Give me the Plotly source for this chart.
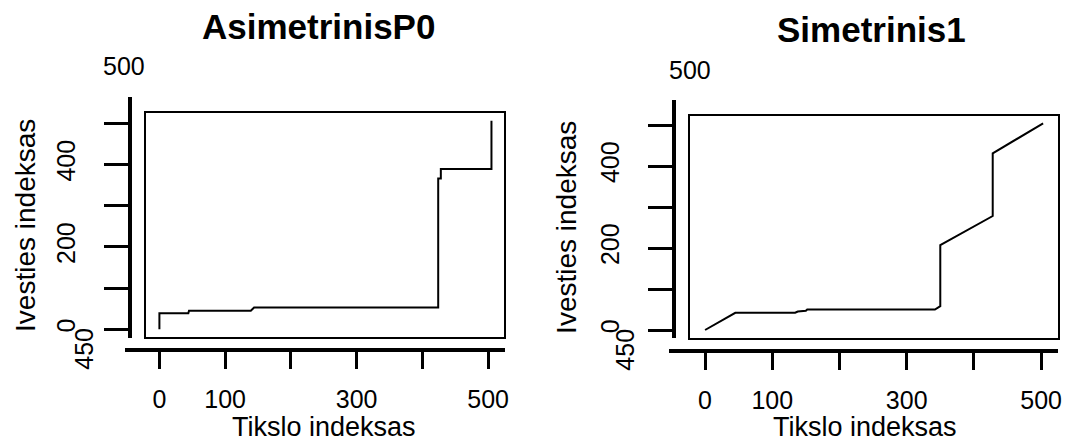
import plotly.graph_objects as go

# ---------------- data ----------------
# Left panel: AsimetrinisP0 (warping path breakpoints)
asym_x = [0, 0, 44, 45, 139, 144, 424, 424, 428, 428, 505, 505]
asym_y = [0, 39, 39, 45, 45, 53, 53, 366, 366, 389, 389, 506]
# Right panel: Simetrinis1
sym_x = [0, 45, 134, 138, 150, 152, 342, 350, 350, 428, 428, 503]
sym_y = [0, 42, 42, 45, 47, 50, 50, 58, 207, 278, 431, 504]

titles = ["AsimetrinisP0", "Simetrinis1"]
x_title = "Tikslo indeksas"
y_title = "Ivesties indeksas"
tick_vals = [0, 100, 200, 300, 400, 500]
x_tick_text = ["0", "100", "", "300", "", "500"]
y_tick_text = ["0", "", "200", "", "400", ""]
extra_top_label = "500"
extra_bottom_label = "450"

# ---------------- layout geometry (pixels) ----------------
W, H = 1073, 443
FONT = "Arial, Liberation Sans, sans-serif"

panels = [
    dict(box=(146.7, 506.0, 112.7, 337.3), x0=160.0, x500=490.0, y0=329.3, y500=123.3,
         ylx=130.0, yly=(96.7, 338.3), xly=350.0, xlx=(125.0, 506.7),
         title_xy=(320, 27), xt_xy=(325, 427), yt_xy=(25, 225),
         top_lab=(124, 66), bot_lab=(84, 349)),
    dict(box=(692.7, 1061.7, 115.7, 338.3), x0=707.7, x500=1045.0, y0=330.0, y500=125.0,
         ylx=676.7, yly=(100.0, 338.3), xly=351.0, xlx=(671.7, 1061.7),
         title_xy=(875, 30), xt_xy=(868, 427), yt_xy=(568, 227),
         top_lab=(693, 70), bot_lab=(627, 350)),
]


def fx(px):
    return px / W


def fy(py):
    return 1 - py / H


def xval(p, P):
    return (p - P["x0"]) / (P["x500"] - P["x0"]) * 500


def yval(p, P):
    return (P["y0"] - p) / (P["y0"] - P["y500"]) * 500


fig = go.Figure()
layout = dict(
    width=W, height=H, margin=dict(l=0, r=0, t=0, b=0),
    paper_bgcolor="white", plot_bgcolor="rgba(0,0,0,0)", showlegend=False,
    font=dict(family=FONT, color="black", size=25),
)
annotations = []
series = [(asym_x, asym_y), (sym_x, sym_y)]

for i, P in enumerate(panels):
    n_main = 2 * i + 1
    n_out = 2 * i + 2
    xa_main = "xaxis" if n_main == 1 else f"xaxis{n_main}"
    ya_main = "yaxis" if n_main == 1 else f"yaxis{n_main}"
    xr_main = "x" if n_main == 1 else f"x{n_main}"
    yr_main = "y" if n_main == 1 else f"y{n_main}"
    xa_out, ya_out = f"xaxis{n_out}", f"yaxis{n_out}"
    xr_out, yr_out = f"x{n_out}", f"y{n_out}"

    bx0, bx1, by0, by1 = P["box"]
    # main (data) axes -> drawn as the framing box
    layout[xa_main] = dict(
        domain=[fx(bx0), fx(bx1)], range=[xval(bx0, P), xval(bx1, P)],
        anchor=yr_main, showline=True, mirror=True, linecolor="black", linewidth=2,
        showgrid=False, zeroline=False, showticklabels=False, ticks="",
    )
    layout[ya_main] = dict(
        domain=[fy(by1), fy(by0)], range=[yval(by1, P), yval(by0, P)],
        anchor=xr_main, showline=True, mirror=True, linecolor="black", linewidth=2,
        showgrid=False, zeroline=False, showticklabels=False, ticks="",
    )

    # outer R-style axes
    xl0, xl1 = P["xlx"]
    layout[xa_out] = dict(
        domain=[fx(xl0), fx(xl1)], range=[xval(xl0, P), xval(xl1, P)],
        anchor="free", position=fy(P["xly"]), showline=True, linecolor="black", linewidth=4,
        ticks="outside", ticklen=17, tickwidth=2.5, tickcolor="black",
        tickvals=tick_vals, ticktext=x_tick_text, tickfont=dict(size=25),
        ticklabelstandoff=9, showgrid=False, zeroline=False,
    )
    yl0, yl1 = P["yly"]
    layout[ya_out] = dict(
        domain=[fy(yl1), fy(yl0)], range=[yval(yl1, P), yval(yl0, P)],
        anchor="free", position=fx(P["ylx"]), showline=True, linecolor="black", linewidth=4,
        ticks="outside", ticklen=24, tickwidth=2.5, tickcolor="black",
        tickvals=tick_vals, ticktext=y_tick_text, tickangle=-90, tickfont=dict(size=25),
        ticklabelstandoff=19, showgrid=False, zeroline=False,
    )
    fig.add_trace(go.Scatter(x=[None], y=[None], mode="markers", xaxis=xr_out, yaxis=yr_out,
                             hoverinfo="skip"))
    xs, ys = series[i]
    fig.add_trace(go.Scatter(x=xs, y=ys, mode="lines", xaxis=xr_main, yaxis=yr_main,
                             line=dict(color="black", width=2), hoverinfo="skip"))

    tx, ty = P["title_xy"]
    annotations.append(dict(text=f"<b>{titles[i]}</b>", x=fx(tx), y=fy(ty), xref="paper", yref="paper",
                            xanchor="center", yanchor="middle", showarrow=False,
                            font=dict(size=35, family=FONT)))
    tx, ty = P["xt_xy"]
    annotations.append(dict(text=x_title, x=fx(tx), y=fy(ty), xref="paper", yref="paper",
                            xanchor="center", yanchor="middle", showarrow=False,
                            font=dict(size=27, family=FONT)))
    tx, ty = P["yt_xy"]
    annotations.append(dict(text=y_title, x=fx(tx), y=fy(ty), xref="paper", yref="paper",
                            xanchor="center", yanchor="middle", showarrow=False, textangle=-90,
                            font=dict(size=28, family=FONT)))
    tx, ty = P["top_lab"]
    annotations.append(dict(text=extra_top_label, x=fx(tx), y=fy(ty), xref="paper", yref="paper",
                            xanchor="center", yanchor="middle", showarrow=False,
                            font=dict(size=25, family=FONT)))
    tx, ty = P["bot_lab"]
    annotations.append(dict(text=extra_bottom_label, x=fx(tx), y=fy(ty), xref="paper", yref="paper",
                            xanchor="center", yanchor="middle", showarrow=False, textangle=-90,
                            font=dict(size=25, family=FONT)))

layout["annotations"] = annotations
fig.update_layout(**layout)
fig.write_html(
    "out.html",
    config={"displayModeBar": False},
    post_script="document.body.style.margin='0px';document.body.style.overflow='hidden';",
)
